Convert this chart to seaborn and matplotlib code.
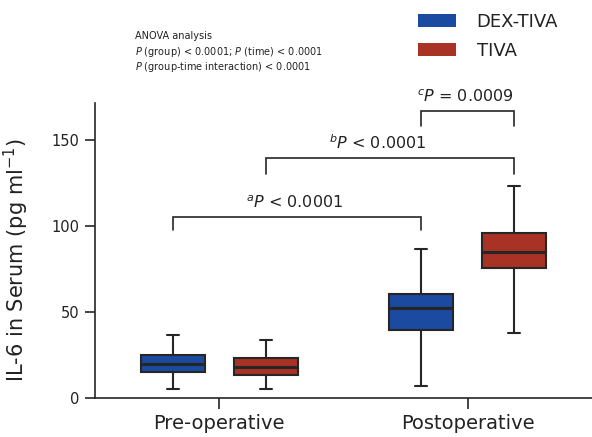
import numpy as np
import pandas as pd
import matplotlib
matplotlib.use("Agg")
import matplotlib.pyplot as plt
import seaborn as sns
from matplotlib.patches import Patch

# ---------------- data ----------------
times = ["Pre-operative", "Postoperative"]
groups = ["DEX-TIVA", "TIVA"]
colors = ["#1a4ba0", "#a83223"]

# five-number summaries: [min, Q1, median, Q3, max]
dex_pre = [5.6, 15.1, 20.1, 25.0, 37.0]
tiva_pre = [5.6, 13.4, 18.4, 23.4, 33.9]
dex_post = [7.3, 39.9, 52.7, 60.5, 86.6]
tiva_post = [38.1, 75.6, 85.2, 96.1, 123.6]

yticks = [0, 50, 100, 150]
ylabel = "IL-6 in Serum (pg ml$^{-1}$)"

anova_lines = [
    "ANOVA analysis",
    r"$\it{P}$ (group) < 0.0001; $\it{P}$ (time) < 0.0001",
    r"$\it{P}$ (group-time interaction) < 0.0001",
]

# pairwise comparisons: (time index, group index) pairs, bracket heights, labels
comp_labels = [r"${}^{a}P$ < 0.0001", r"${}^{b}P$ < 0.0001", r"${}^{c}P$ = 0.0009"]
comp_from = [(0, 0), (0, 1), (1, 0)]
comp_to = [(1, 0), (1, 1), (1, 1)]
comp_top = [105.6, 139.5, 167.0]
comp_leg = [97.8, 130.4, 158.3]

# ---------------- frame ----------------
series = {(times[0], groups[0]): dex_pre, (times[0], groups[1]): tiva_pre,
          (times[1], groups[0]): dex_post, (times[1], groups[1]): tiva_post}
rows = []
for (t, g), vals in series.items():
    for v in vals:
        rows.append({"time": t, "group": g, "value": v})
df = pd.DataFrame(rows)

sns.set_style("ticks")
plt.rcParams["font.family"] = ["DejaVu Sans"]
plt.rcParams["mathtext.fontset"] = "dejavusans"

fig = plt.figure(figsize=(5.92, 4.37), dpi=100)
ax = fig.add_axes([95 / 592, 1 - 398.3 / 437, 497 / 592, 295 / 437])

edge = "#262626"
WIDTH = 0.75
sns.boxplot(data=df, x="time", y="value", hue="group", order=times,
            hue_order=groups, palette=colors, width=WIDTH, gap=0.31,
            whis=(0, 100), linewidth=1.5, linecolor=edge, saturation=1,
            legend=False, fliersize=0, medianprops=dict(linewidth=2.2),
            ax=ax)

# shorten whisker caps
for ln in ax.lines:
    x = np.asarray(ln.get_xdata(), dtype=float)
    y = np.asarray(ln.get_ydata(), dtype=float)
    if len(x) == 2 and y[0] == y[1] and 0 < abs(x[1] - x[0]) < 0.2:
        c = x.mean()
        ln.set_xdata([c - 0.024, c + 0.024])

ax.set_xlim(-0.5, 1.5)
ax.set_ylim(0, 171.5)
ax.set_yticks(yticks)
ax.set_xlabel("")
ax.set_ylabel(ylabel, fontsize=15, color="#222222")
ax.yaxis.set_label_coords(-0.128, 0.47)
sns.despine(ax=ax)
for s in ["left", "bottom"]:
    ax.spines[s].set_linewidth(1.2)
    ax.spines[s].set_color(edge)
ax.tick_params(axis="y", length=7, width=1.2, labelsize=10.5, pad=4,
               color=edge, labelcolor="#222222")
ax.tick_params(axis="x", length=8, width=1.2, labelsize=14, pad=3,
               color=edge, labelcolor="#222222")

# significance brackets
def pos(ti, gi):
    return ti + (gi - 0.5) * WIDTH / 2

label_dx = [-0.01, -0.05, -0.01]
for lab, a, b, top, leg, dx in zip(comp_labels, comp_from, comp_to, comp_top, comp_leg, label_dx):
    x0, x1 = pos(*a), pos(*b)
    ax.plot([x0, x0, x1, x1], [leg, top, top, leg], color=edge, lw=1.2,
            clip_on=False, solid_joinstyle="miter")
    ax.text((x0 + x1) / 2 + dx, top + 3.5, lab, ha="center", va="bottom",
            fontsize=11.5, color="#222222")

# legend
handles = [Patch(facecolor=c, edgecolor="none") for c in colors]
fig.legend(handles=handles, labels=groups, loc="upper left",
           bbox_to_anchor=(418 / 592, 0.970), frameon=False, fontsize=13,
           handlelength=2.1, handleheight=0.72, handletextpad=1.15,
           labelspacing=0.58, borderpad=0.0, borderaxespad=0.0,
           labelcolor="#222222")

# ANOVA note
for txt, yb in zip(anova_lines, [39, 55, 70]):
    fig.text(135 / 592, 1 - yb / 437, txt, va="baseline", ha="left",
             fontsize=7.0, color="#222222")

fig.savefig("out.png", dpi=100)
